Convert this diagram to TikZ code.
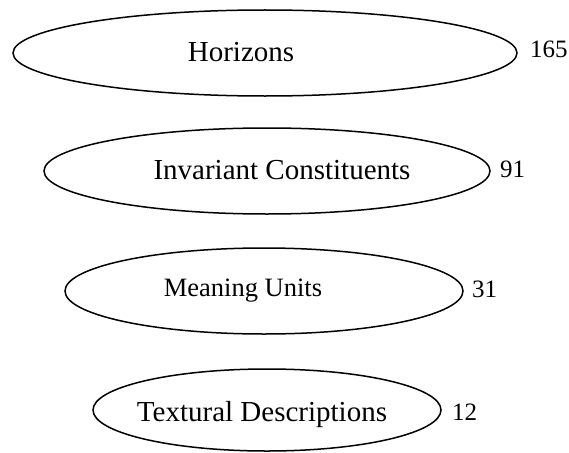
\documentclass[tikz,border=0pt]{standalone}
\usepackage{fontspec}
\setmainfont{Liberation Serif}
\usetikzlibrary{shapes.geometric,positioning}

\tikzset{
  stage/.style={ellipse,draw,line width=1.5pt,inner sep=0pt},
  stagetext/.style={anchor=base,inner sep=0pt,font=\fontsize{29}{34}\selectfont},
  count/.style={anchor=base west,inner sep=0pt,font=\fontsize{25}{30}\selectfont}
}

\begin{document}
\begin{tikzpicture}[x=1pt,y=-1pt]
    \useasboundingbox (0,0) rectangle (569,452);
    % Ellipsen, von oben nach unten schmaler
    \foreach \n/\cx/\cy/\rx/\ry in {hor/265/53/252/43,inv/267/171/223/43,mea/264/291/199/43,tex/267/410/174/41} {
      \node[stage,minimum width=2*\rx,minimum height=2*\ry] (\n) at (\cx,\cy) {};
    }
    % Beschriftungen
    \node[stagetext] (hortxt) at (241,61) {Horizons};
    \node[stagetext] (invtxt) at (282,179) {Invariant Constituents};
    \node[stagetext,font=\fontsize{26.5}{32}\selectfont] (meatxt) at (243,296) {Meaning Units};
    \node[stagetext] (textxt) at (262,421) {Textural Descriptions};
    % Anzahlen rechts neben den Ellipsen
    \node[count] (horn) at (530,57) {165};
    \node[count] (invn) at (500,177) {91};
    \node[count] (mean) at (472,297) {31};
    \node[count] (texn) at (452,420) {12};
  \end{tikzpicture}
\end{document}
